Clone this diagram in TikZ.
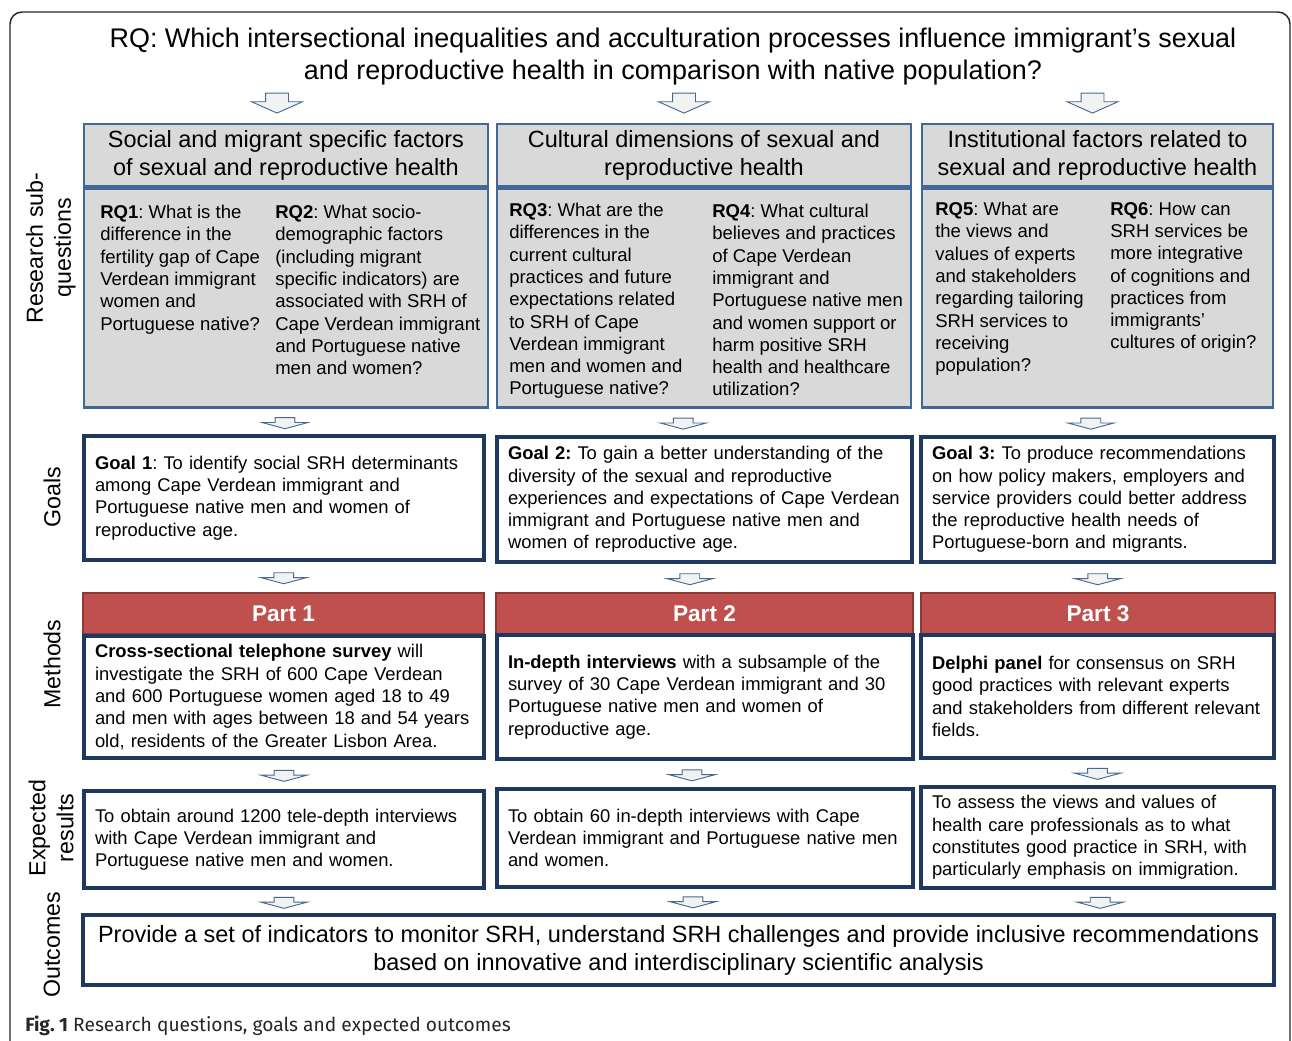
\documentclass[tikz,border=0pt]{standalone}
\usepackage{fontspec}
\setmainfont{Liberation Sans}
\newfontfamily\capfont{Fira Sans}
\usetikzlibrary{positioning,shapes.arrows,calc}

\definecolor{boxgray}{RGB}{217,217,217}
\definecolor{hdrblue}{RGB}{65,104,150}
\definecolor{navy}{RGB}{30,56,96}
\definecolor{partred}{RGB}{192,80,77}
\definecolor{partedge}{RGB}{140,56,54}
\definecolor{arrowfill}{RGB}{242,242,242}
\definecolor{arrowedge}{RGB}{70,105,145}

\frenchspacing
\hyphenpenalty=10000

% box sizes are given in pixels of a 1292 x 1040 canvas
\tikzset{
    wh/.style 2 args={
        minimum width=#1*0.75pt,
        minimum height=#2*0.75pt
    },
    twh/.style 2 args={
        text width=#1*0.75pt-16.5pt,
        minimum height=#2*0.75pt
    }
}

\begin{document}
\begin{tikzpicture}[
    x=0.75pt,
    y=-0.75pt,
    frame/.style={
        draw=black!85,
        line width=1.1pt,
        rounded corners=9pt
    },
    title/.style={
        align=center,
        inner sep=0pt,
        font=\fontsize{20.2}{24}\selectfont
    },
    side/.style={
        rotate=90,
        align=center,
        inner sep=0pt,
        font=\fontsize{17.4}{21}\selectfont
    },
    header/.style={
        rectangle,
        draw=hdrblue,
        line width=2.2pt,
        fill=boxgray,
        align=center,
        inner sep=0pt,
        font=\fontsize{17.6}{21}\selectfont
    },
    qbody/.style={
        rectangle,
        draw=hdrblue,
        line width=2.2pt,
        fill=boxgray,
        inner sep=0pt
    },
    rqtext/.style={
        align=left,
        anchor=north west,
        inner sep=0pt,
        font=\fontsize{13.9}{16.7}\selectfont
    },
    textbox/.style={
        rectangle,
        draw=navy,
        line width=2.6pt,
        fill=white,
        align=left,
        inner xsep=8.25pt,
        inner ysep=0pt,
        font=\fontsize{13.8}{16.7}\selectfont
    },
    part/.style={
        rectangle,
        draw=partedge,
        line width=1.4pt,
        fill=partred,
        text=white,
        inner sep=0pt,
        font=\fontsize{17}{20}\selectfont\bfseries
    },
    outcome/.style={
        rectangle,
        draw=navy,
        line width=2.6pt,
        fill=white,
        align=center,
        inner sep=0pt,
        font=\fontsize{17.6}{21}\selectfont
    },
    downarrow/.style={
        single arrow,
        shape border rotate=270,
        draw=arrowedge,
        fill=arrowfill,
        line width=0.7pt,
        inner ysep=0pt,
        single arrow head indent=0pt
    },
    bigarrow/.style={
        downarrow,
        inner xsep=8.25pt,
        single arrow head extend=10.5pt,
        single arrow tip angle=132,
        minimum height=15pt
    },
    smallarrow/.style={
        downarrow,
        inner xsep=7.1pt,
        single arrow head extend=9.75pt,
        single arrow tip angle=150,
        minimum height=8.25pt
    }
]
    \useasboundingbox (0,0) rectangle (1292,1040);

    % Outer frame, open at the bottom
    \begin{scope}
        \clip (0,0) rectangle (1292,1040);
        \draw[frame] (10,1050) -- (10,12) -- (1290,12) -- (1290,1050);
    \end{scope}

    % Main research question
    \node[title] (rq) at (673,57) {RQ: Which intersectional inequalities and acculturation processes influence immigrant’s sexual\\and reproductive health in comparison with native population?};

    % Row labels
    \node[side] (lblsub) at (51,248) {Research sub-\\questions};
    \node[side] (lblgoals) at (52,497) {Goals};
    \node[side] (lblmeth) at (52,664) {Methods};
    \node[side] (lblexp) at (51,828) {Expected\\results};
    \node[side] (lblout) at (52,945) {Outcomes};

    % Sub-question headers and bodies
    \node[header, wh={404}{62}] (hdr1) at (286,155) {Social and migrant specific factors\\of sexual and reproductive health};
    \node[header, wh={414}{62}] (hdr2) at (704,155) {Cultural dimensions of sexual and\\reproductive health};
    \node[header, wh={351}{62}] (hdr3) at (1097.5,155) {Institutional factors related to\\sexual and reproductive health};

    \node[qbody, wh={404}{219}, below=0pt of hdr1] (body1) {};
    \node[qbody, wh={414}{219}, below=0pt of hdr2] (body2) {};
    \node[qbody, wh={351}{219}, below=0pt of hdr3] (body3) {};

    \node[rqtext] (rq1) at (100,205) {\textbf{RQ1}: What is the\\difference in the\\fertility gap of Cape\\Verdean immigrant\\women and\\Portuguese native?};
    \node[rqtext] (rq2) at (275,205) {\textbf{RQ2}: What socio-\\demographic factors\\(including migrant\\specific indicators) are\\associated with SRH of\\Cape Verdean immigrant\\and Portuguese native\\men and women?};
    \node[rqtext] (rq3) at (509,203) {\textbf{RQ3}: What are the\\differences in the\\current cultural\\practices and future\\expectations related\\to SRH of Cape\\Verdean immigrant\\men and women and\\Portuguese native?};
    \node[rqtext] (rq4) at (712,204) {\textbf{RQ4}: What cultural\\believes and practices\\of Cape Verdean\\immigrant and\\Portuguese native men\\and women support or\\harm positive SRH\\health and healthcare\\utilization?};
    \node[rqtext] (rq5) at (935,202) {\textbf{RQ5}: What are\\the views and\\values of experts\\and stakeholders\\regarding tailoring\\SRH services to\\receiving\\population?};
    \node[rqtext] (rq6) at (1110,202) {\textbf{RQ6}: How can\\SRH services be\\more integrative\\of cognitions and\\practices from\\immigrants’\\cultures of origin?};

    % Goals
    \node[textbox, twh={400}{124}] (goal1) at (284,498) {\textbf{Goal 1}: To identify social SRH determinants\\among Cape Verdean immigrant and\\Portuguese native men and women of\\reproductive age.};
    \node[textbox, twh={415}{125}] (goal2) at (704.5,499.5) {\textbf{Goal 2:} To gain a better understanding of the\\diversity of the sexual and reproductive\\experiences and expectations of Cape Verdean\\immigrant and Portuguese native men and\\women of reproductive age.};
    \node[textbox, twh={353}{125}] (goal3) at (1097.5,499.5) {\textbf{Goal 3:} To produce recommendations\\on how policy makers, employers and\\service providers could better address\\the reproductive health needs of\\Portuguese-born and migrants.};

    % Methods
    \node[part, wh={401}{41}] (part1) at (283.5,613.5) {Part 1};
    \node[part, wh={417}{41}] (part2) at (704.5,613.5) {Part 2};
    \node[part, wh={354}{41}] (part3) at (1098,613.5) {Part 3};

    \node[textbox, twh={400}{122}] (meth1) at (284,697) {\textbf{Cross-sectional telephone survey} will\\investigate the SRH of 600 Cape Verdean\\and 600 Portuguese women aged 18 to 49\\and men with ages between 18 and 54 years\\old, residents of the Greater Lisbon Area.};
    \node[textbox, twh={416}{124}] (meth2) at (705,697) {\textbf{In-depth interviews} with a subsample of the\\survey of 30 Cape Verdean immigrant and 30\\Portuguese native men and women of\\reproductive age.};
    \node[textbox, twh={353}{123}] (meth3) at (1097.5,696.5) {\textbf{Delphi panel} for consensus on SRH\\good practices with relevant experts\\and stakeholders from different relevant\\fields.};

    % Expected results
    \node[textbox, twh={400}{97}] (exp1) at (284,839.5) {To obtain around 1200 tele-depth interviews\\with Cape Verdean immigrant and\\Portuguese native men and women.};
    \node[textbox, twh={416}{98}] (exp2) at (705,838) {To obtain 60 in-depth interviews with Cape\\Verdean immigrant and Portuguese native men\\and women.};
    \node[textbox, twh={353}{101}] (exp3) at (1097.5,837.5) {To assess the views and values of\\health care professionals as to what\\constitutes good practice in SRH, with\\particularly emphasis on immigration.};

    % Outcome
    \node[outcome, wh={1191}{70}] (out) at (678.5,950) {Provide a set of indicators to monitor SRH, understand SRH challenges and provide inclusive recommendations\\based on innovative and interdisciplinary scientific analysis};

    % Block arrows between the rows
    \node[bigarrow] (down1) at ($(hdr1.north)+(-9,-22)$) {};
    \node[bigarrow] (down2) at ($(hdr2.north)+(-20,-22)$) {};
    \node[bigarrow] (down3) at ($(hdr3.north)+(-5,-22)$) {};

    \node[smallarrow] (bg1) at ($(body1.south)!0.5!(goal1.north)$) {};
    \node[smallarrow, xshift=-15.75pt] (bg2) at ($(body2.south)!0.5!(goal2.north)$) {};
    \node[smallarrow, xshift=-5pt] (bg3) at ($(body3.south)!0.5!(goal3.north)$) {};

    \node[smallarrow] (gp1) at ($(goal1.south)!0.5!(part1.north)$) {};
    \node[smallarrow, xshift=-11pt] (gp2) at ($(goal2.south)!0.5!(part2.north)$) {};
    \node[smallarrow] (gp3) at ($(goal3.south)!0.5!(part3.north)$) {};

    \node[smallarrow] (me1) at ($(meth1.south)!0.5!(exp1.north)$) {};
    \node[smallarrow, xshift=-9.75pt] (me2) at ($(meth2.south)!0.5!(exp2.north)$) {};
    \node[smallarrow] (me3) at ($(meth3.south)!0.5!(exp3.north)$) {};

    \node[smallarrow] (eo1) at ($(exp1.south)!0.5!(exp1.south|-out.north)$) {};
    \node[smallarrow, xshift=-9pt] (eo2) at ($(exp2.south)!0.5!(exp2.south|-out.north)$) {};
    \node[smallarrow, xshift=2pt] (eo3) at ($(exp3.south)!0.5!(exp3.south|-out.north)$) {};

    % Caption
    \node[anchor=base west, inner sep=0pt, text=black!85, font=\capfont\fontsize{14.4}{17}\selectfont] (cap) at (25,1031) {\textbf{Fig. 1} Research questions, goals and expected outcomes};
\end{tikzpicture}
\end{document}
